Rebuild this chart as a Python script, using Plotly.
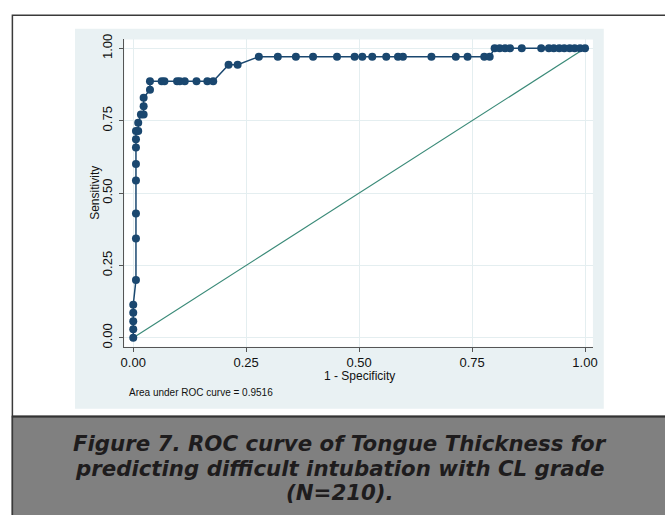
import plotly.graph_objects as go

# ---- data (1 - specificity, sensitivity) ----
fpr = [0.000, 0.000, 0.000, 0.000, 0.000,
       0.006, 0.006, 0.006, 0.006, 0.006, 0.006, 0.006, 0.006, 0.011,
       0.011, 0.017, 0.023, 0.023, 0.023, 0.037, 0.037,
       0.063, 0.069, 0.097, 0.103, 0.114, 0.140, 0.164, 0.177,
       0.211, 0.231,
       0.278, 0.320, 0.360, 0.398, 0.451, 0.490, 0.507, 0.529, 0.560,
       0.586, 0.597, 0.660, 0.714, 0.740, 0.777, 0.789,
       0.800, 0.811, 0.823, 0.834, 0.860, 0.903, 0.920, 0.931, 0.943,
       0.954, 0.966, 0.977, 0.989, 1.000]
tpr = [0.000, 0.029, 0.057, 0.086, 0.114,
       0.200, 0.343, 0.429, 0.543, 0.600, 0.657, 0.686, 0.714, 0.714,
       0.743, 0.771, 0.771, 0.800, 0.829, 0.857, 0.886,
       0.886, 0.886, 0.886, 0.886, 0.886, 0.886, 0.886, 0.886,
       0.943, 0.943,
       0.971, 0.971, 0.971, 0.971, 0.971, 0.971, 0.971, 0.971, 0.971,
       0.971, 0.971, 0.971, 0.971, 0.971, 0.971, 0.971,
       1.000, 1.000, 1.000, 1.000, 1.000, 1.000, 1.000, 1.000, 1.000,
       1.000, 1.000, 1.000, 1.000, 1.000]
ref_x = [0.0, 1.0]
ref_y = [0.0, 1.0]
tick_vals = [0.0, 0.25, 0.5, 0.75, 1.0]
tick_text = ["0.00", "0.25", "0.50", "0.75", "1.00"]
auc_text = "Area under ROC curve = 0.9516"
x_title = "1 - Specificity"
y_title = "Sensitivity"
caption_lines = ["Figure 7. ROC curve of Tongue Thickness for",
                 "predicting difficult intubation with CL grade",
                 "(N=210)."]

W, H = 665, 515
def fx(px):
    return px / W
def fy(py):
    return 1 - py / H

NAVY = "#1a476f"
TEAL = "#3a8a78"
GRID = "#e4eef0"
REGION = "#e9f1f3"
AXIS = "#555555"
FONT = "Liberation Sans, Arial, sans-serif"

fig = go.Figure()
fig.add_trace(go.Scatter(x=ref_x, y=ref_y, mode="lines",
                         line=dict(color=TEAL, width=1.2), hoverinfo="skip"))
fig.add_trace(go.Scatter(x=fpr, y=tpr, mode="lines+markers",
                         line=dict(color=NAVY, width=1.5),
                         marker=dict(color=NAVY, size=8)))

shapes = [
    # outer white box with dark border
    dict(type="rect", xref="paper", yref="paper", x0=fx(8.5), x1=fx(700),
         y0=fy(600), y1=fy(9.5), fillcolor="white",
         line=dict(color="#3a3a3a", width=1.5), layer="below"),
    # graph region
    dict(type="rect", xref="paper", yref="paper", x0=fx(72), x1=fx(608),
         y0=fy(409), y1=fy(23), fillcolor=REGION, line=dict(width=0), layer="below"),
    # plot region
    dict(type="rect", xref="paper", yref="paper", x0=fx(122), x1=fx(597),
         y0=fy(346), y1=fy(34), fillcolor="white", line=dict(width=0), layer="below"),
    # caption box
    dict(type="rect", xref="paper", yref="paper", x0=fx(8.5), x1=fx(700),
         y0=fy(600), y1=fy(417), fillcolor="#808080",
         line=dict(color="#3a3a3a", width=1.5), layer="above"),
    dict(type="line", xref="paper", yref="paper", x0=fx(8), x1=fx(700),
         y0=fy(417), y1=fy(417), line=dict(color="#333333", width=2), layer="above"),
]

annotations = [
    dict(text=auc_text, xref="paper", yref="paper", x=fx(125), y=fy(393),
         xanchor="left", yanchor="middle", showarrow=False,
         font=dict(family=FONT, size=10, color="#111111")),
    dict(text=x_title, xref="paper", yref="paper", x=fx(360), y=fy(376),
         xanchor="center", yanchor="middle", showarrow=False,
         font=dict(family=FONT, size=12, color="#111111")),
    dict(text=y_title, xref="paper", yref="paper", x=fx(92), y=fy(190),
         xanchor="center", yanchor="middle", showarrow=False, textangle=-90,
         font=dict(family=FONT, size=12, color="#111111")),
]
for i, line in enumerate(caption_lines):
    annotations.append(dict(
        text="<b><i>" + line + "</i></b>", xref="paper", yref="paper",
        x=fx(340.5), y=fy(444.5 + 25 * i), xanchor="center", yanchor="middle",
        showarrow=False,
        font=dict(family="DejaVu Sans, Verdana, sans-serif", size=21.3, color="#1e1c1d")))

fig.update_layout(
    width=W, height=H, autosize=False,
    margin=dict(l=0, r=0, t=0, b=0, pad=0),
    paper_bgcolor="white", plot_bgcolor="white",
    showlegend=False,
    shapes=shapes, annotations=annotations,
    font=dict(family=FONT, color="#111111"),
    xaxis=dict(domain=[fx(122), fx(597)], range=[-0.0197, 1.0175],
               tickvals=tick_vals, ticktext=tick_text, ticks="outside",
               ticklen=4, tickcolor=AXIS, showline=True, linecolor=AXIS,
               linewidth=1, showgrid=True, gridcolor=GRID, gridwidth=1,
               zeroline=False,
               tickfont=dict(size=13, family=FONT)),
    yaxis=dict(domain=[fy(346), fy(34)], range=[-0.0306, 1.0306],
               tickvals=tick_vals, ticktext=tick_text, ticks="outside",
               ticklen=4, tickcolor=AXIS, showline=True, linecolor=AXIS,
               linewidth=1, showgrid=True, gridcolor=GRID, gridwidth=1,
               zeroline=False, tickangle=-90, ticklabelstandoff=2,
               tickfont=dict(size=13, family=FONT)),
)

fig.write_html("out.html")
